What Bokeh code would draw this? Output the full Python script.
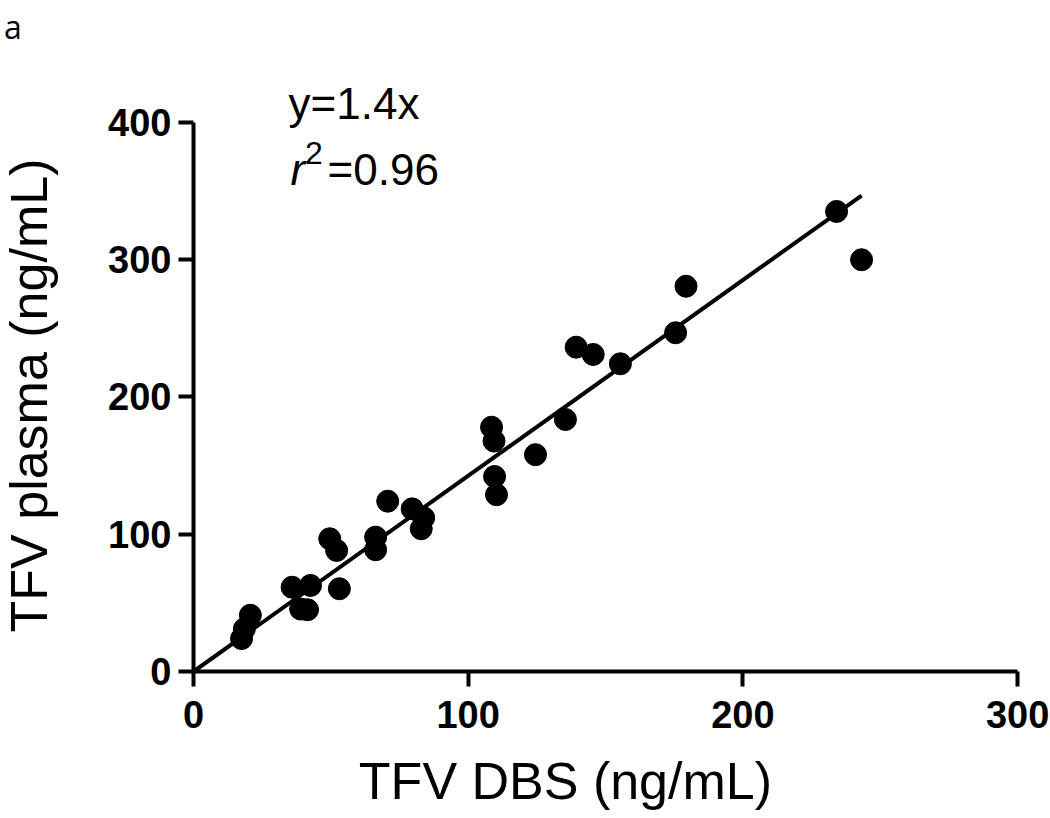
import math
from bokeh.plotting import figure
from bokeh.models import Range1d, FixedTicker, Label
from bokeh.embed import file_html
from bokeh.resources import INLINE

# ---- data ----
dbs = [234.1, 243.2, 179.3, 175.5, 139.3, 145.5, 155.4, 135.4, 108.5, 109.4,
       124.5, 109.6, 110.3, 70.7, 79.6, 83.8, 82.9, 49.6, 52.1, 66.3,
       66.3, 35.9, 42.6, 39.0, 41.5, 53.1, 20.7, 18.5, 17.5]
plasma = [335.2, 300.0, 280.7, 246.8, 236.3, 231.0, 224.2, 183.6, 178.0, 167.9,
          158.0, 142.1, 128.8, 124.1, 118.5, 112.0, 104.0, 96.7, 88.2, 97.9,
          88.7, 61.4, 62.7, 45.5, 45.0, 60.3, 41.0, 31.0, 24.0]
fit_x = [0, 243.2]
fit_y = [0, 346.8]
x_ticks = [0, 100, 200, 300]
y_ticks = [0, 100, 200, 300, 400]
x_bounds = (0, 300)
y_bounds = (0, 400)
x_title = "TFV DBS (ng/mL)"
y_title = "TFV plasma (ng/mL)"
eq_text = "y=1.4x"
r2_value = "=0.96"
panel_letter = "a"

# frame covers the whole canvas; axes are pinned at 0 with bounds
p = figure(width=1050, height=816,
           x_range=Range1d(-70.26, 311.98), y_range=Range1d(-105.65, 488.89),
           output_backend="svg", toolbar_location=None,
           min_border_left=0, min_border_right=0,
           min_border_top=0, min_border_bottom=0)

p.outline_line_color = None
p.xgrid.visible = False
p.ygrid.visible = False
p.background_fill_color = "white"
p.border_fill_color = "white"

for ax, ticks, bnds in ((p.xaxis[0], x_ticks, x_bounds), (p.yaxis[0], y_ticks, y_bounds)):
    ax.fixed_location = 0
    ax.bounds = bnds
    ax.ticker = FixedTicker(ticks=ticks)
    ax.axis_line_width = 4
    ax.axis_line_color = "black"
    ax.major_tick_line_width = 4
    ax.major_tick_line_color = "black"
    ax.major_tick_out = 15
    ax.major_tick_in = 0
    ax.minor_tick_line_color = None
    ax.major_label_text_font = "Liberation Sans"
    ax.major_label_text_font_style = "bold"
    ax.major_label_text_font_size = "38px"
    ax.major_label_text_color = "black"

p.xaxis.major_label_standoff = 15
p.yaxis.major_label_standoff = 7

p.line(fit_x, fit_y, line_width=4, line_color="black")
p.scatter(dbs, plasma, size=22, fill_color="black", line_color="black")

common = dict(text_font="Liberation Sans", text_color="black",
              text_baseline="alphabetic")
p.add_layout(Label(x=34.6, y=413.8, text=eq_text, text_font_size="44px", **common))
p.add_layout(Label(x=35.3, y=365.8, text="r", text_font_size="44px",
                   text_font_style="italic", **common))
p.add_layout(Label(x=40.6, y=378.1, text="2", text_font_size="32px", **common))
p.add_layout(Label(x=48.8, y=365.8, text=r2_value, text_font_size="44px", **common))

# axis titles
p.add_layout(Label(x=135.4, y=-79.8, text=x_title, text_font_size="52px",
                   text_align="center", **common))
p.add_layout(Label(x=-59.9, y=201.1, text=y_title, text_font_size="52px",
                   text_align="center", angle=math.pi / 2, **common))

# panel letter
p.add_layout(Label(x=-69.0, y=470.0, text=panel_letter, text_font="Open Sans",
                   text_font_size="32px", text_color="black",
                   text_baseline="alphabetic"))

open("out.html", "w").write(file_html(p, INLINE))
